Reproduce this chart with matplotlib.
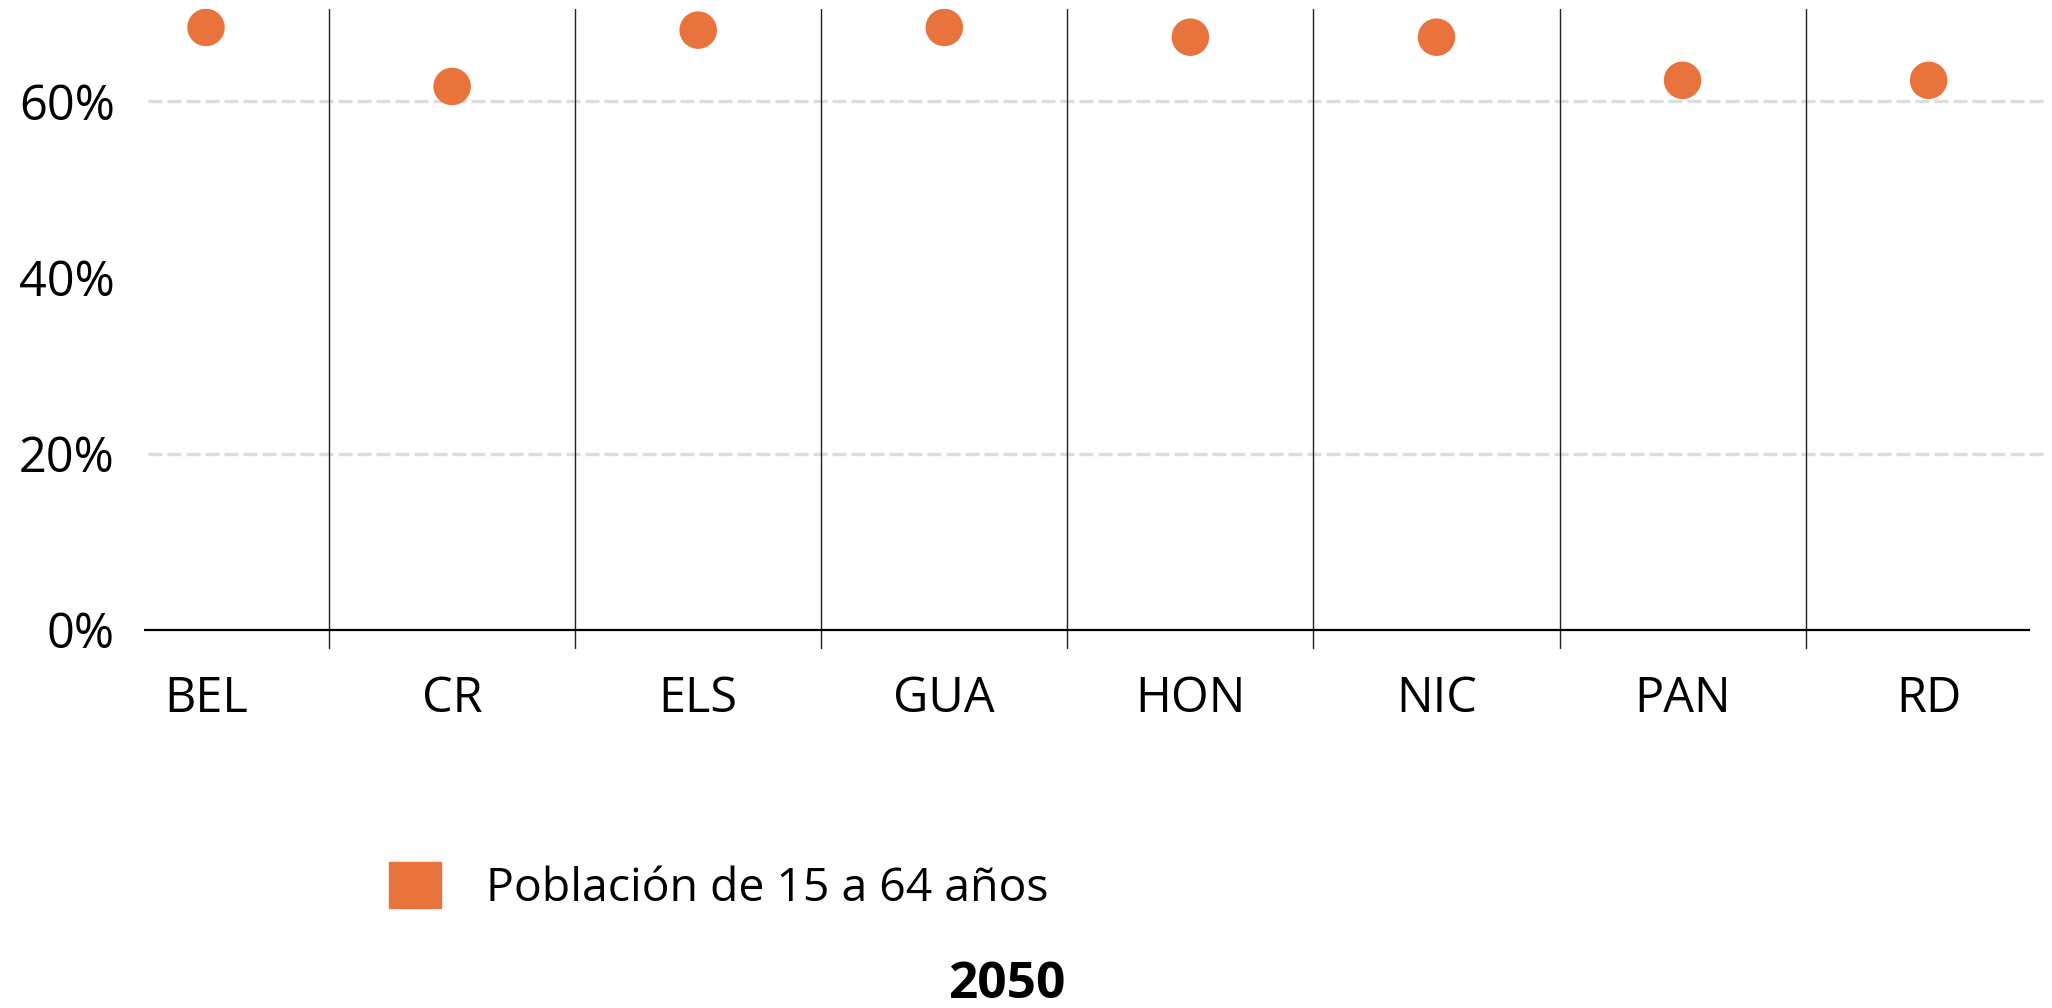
import matplotlib
matplotlib.use("Agg")
import matplotlib.pyplot as plt
from matplotlib.patches import Patch

plt.rcParams['font.family'] = ['Open Sans', 'DejaVu Sans']

# data (share of population aged 15-64, 2050)
countries = ["BEL", "CR", "ELS", "GUA", "HON", "NIC", "PAN", "RD"]
share_15_64 = [68.4, 61.7, 68.1, 68.4, 67.3, 67.3, 62.4, 62.4]
y_ticks = [0, 20, 40, 60]
grid_levels = [20, 60]
series_label = "Población de 15 a 64 años"
year_title = "2050"

ORANGE = "#E8733C"

fig = plt.figure(figsize=(20.52, 10.08), dpi=100)
ax = fig.add_axes([144 / 2052, 1 - 649 / 1008, 1904 / 2052, 640 / 1008])

x = list(range(len(countries)))

# dashed grid lines
for g in grid_levels:
    ax.axhline(g, xmin=0.002, xmax=1, color="#DDDDDD", lw=2.4,
               linestyle=(0, (4.2, 1.5)), zorder=1)

# separators between countries
for i in range(len(countries) - 1):
    ax.axvline(i + 0.5, color="#222222", lw=1.0, zorder=2)

# baseline
ax.hlines(0, -0.252, 7.41, color="black", lw=1.6, zorder=3)

ax.scatter(x, share_15_64, s=27 ** 2, color=ORANGE, edgecolors="none", zorder=4)

ax.set_xlim(-0.252, 7.485)
ax.set_ylim(-2.2, 70.5)

for s in ax.spines.values():
    s.set_visible(False)

ax.set_yticks(y_ticks)
ax.set_yticklabels([f"{v}%" for v in y_ticks])
ax.set_xticks(x)
ax.set_xticklabels(countries)
ax.tick_params(axis="y", length=0, pad=21, labelsize=35)
ax.tick_params(axis="x", length=0, pad=18, labelsize=35)

fig.legend(handles=[Patch(color=ORANGE, label=series_label)],
           loc="center left", bbox_to_anchor=(389 / 2052, 1 - 887 / 1008),
           frameon=False, fontsize=33.4, handlelength=1.13, handleheight=1.13,
           handletextpad=0.97, borderpad=0, borderaxespad=0)

fig.text(1007 / 2052, 1 - 985 / 1008, year_title, ha="center", va="center",
         fontsize=37, fontweight="bold")

fig.savefig("out.png", dpi=100, facecolor="white")
